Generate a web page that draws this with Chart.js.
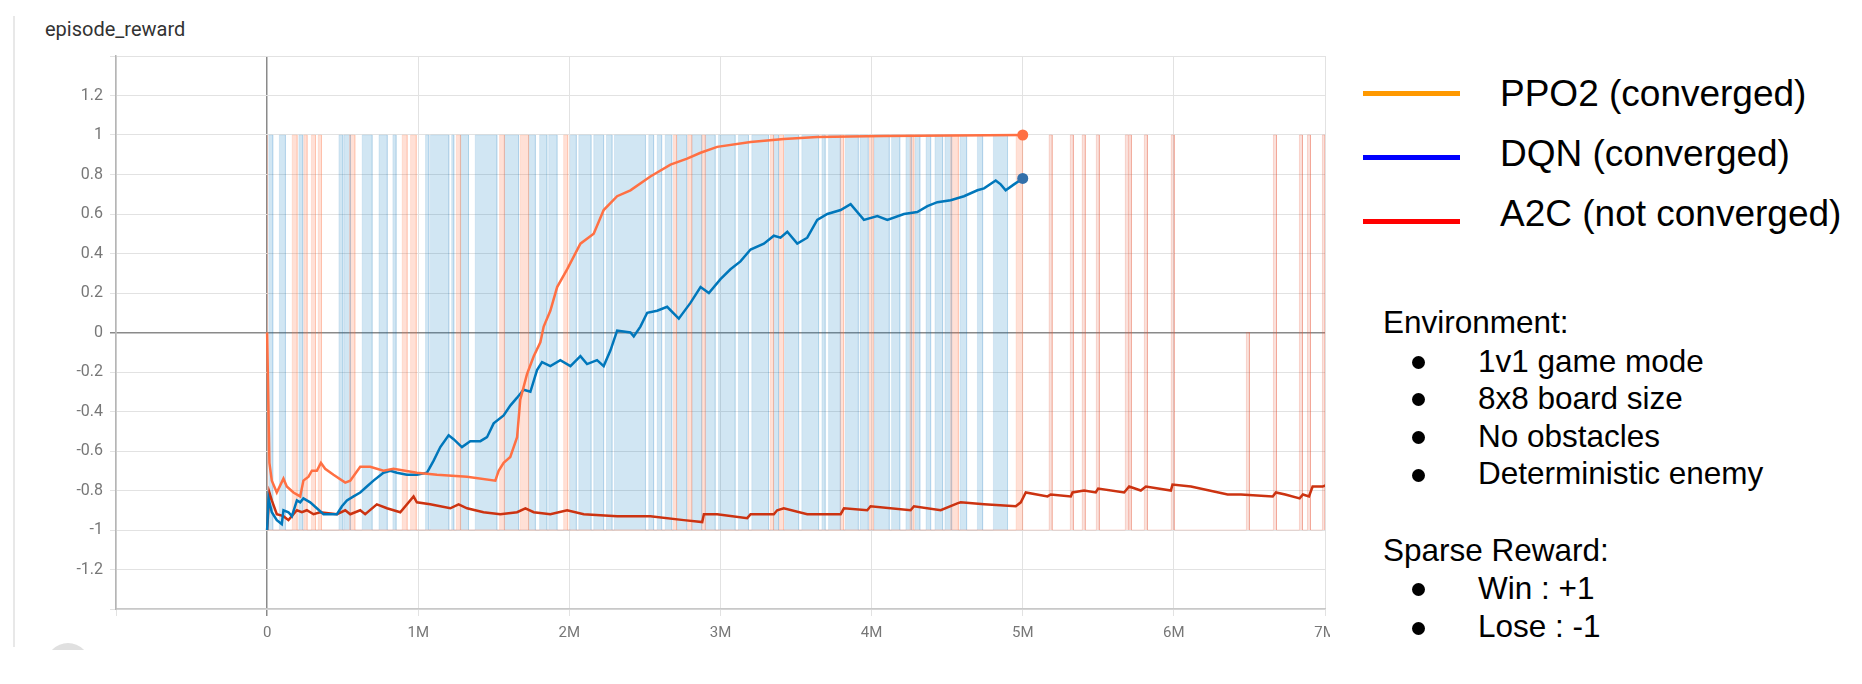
<!DOCTYPE html>
<html>
<head>
<meta charset="utf-8">
<script src="https://cdn.jsdelivr.net/npm/chart.js"></script>
<style>
  html, body { margin: 0; padding: 0; background: #fff; }
  body { width: 1862px; height: 684px; position: relative; overflow: hidden; }
  #chartBox { position: absolute; left: 0; top: 0; width: 1862px; height: 684px; }
  .title { position: absolute; left: 45px; top: 19px; font: 20px Roboto, sans-serif; line-height: 20px; color: #333; }
  .frame { position: absolute; left: 13px; top: 16px; width: 2px; height: 631px; background: #e8e8e8; }
  .knob { position: absolute; left: 46px; top: 643px; width: 44px; height: 7px; overflow: hidden; }
  .knob div { width: 44px; height: 44px; border-radius: 50%; background: #e0e0e0; }
  #panel { position: absolute; left: 1330px; top: 0; width: 532px; height: 684px; background: #fff;
           font-family: "Liberation Sans", Arial, sans-serif; color: #000; }
  .key { position: absolute; left: 33px; width: 97px; height: 5px; }
  .lab { position: absolute; left: 170px; font-size: 37px; line-height: 37px; white-space: nowrap; }
  .env { position: absolute; font-size: 31.5px; line-height: 31.5px; white-space: nowrap; }
  .dot { position: absolute; left: 82px; width: 13px; height: 13px; border-radius: 50%; background: #000; }
</style>
</head>
<body>
<div class="frame"></div>
<div class="knob"><div></div></div>
<div class="title">episode_reward</div>
<div id="chartBox"><canvas id="rewardChart" width="1862" height="684"></canvas></div>

<div id="panel">
  <div class="key" style="top:91px;background:#ff9900"></div>
  <div class="key" style="top:155px;background:#0000ff"></div>
  <div class="key" style="top:219px;background:#ff0000"></div>
  <div class="lab" style="top:75px">PPO2 (converged)</div>
  <div class="lab" style="top:135px">DQN (converged)</div>
  <div class="lab" style="top:195px">A2C (not converged)</div>

  <div class="env" style="left:53px;top:307px">Environment:</div>
  <div class="dot" style="top:356px"></div><div class="env" style="left:148px;top:346px">1v1 game mode</div>
  <div class="dot" style="top:393px"></div><div class="env" style="left:148px;top:383px">8x8 board size</div>
  <div class="dot" style="top:431px"></div><div class="env" style="left:148px;top:421px">No obstacles</div>
  <div class="dot" style="top:469px"></div><div class="env" style="left:148px;top:458px">Deterministic enemy</div>

  <div class="env" style="left:53px;top:535px">Sparse Reward:</div>
  <div class="dot" style="top:583px"></div><div class="env" style="left:148px;top:573px">Win : +1</div>
  <div class="dot" style="top:622px"></div><div class="env" style="left:148px;top:611px">Lose : -1</div>
</div>

<script>
// steps are in millions
const xTickLabels = ['', '0', '1M', '2M', '3M', '4M', '5M', '6M', '7M'];
const yTickLabels = ['', '-1.2', '-1', '-0.8', '-0.6', '-0.4', '-0.2', '0', '0.2', '0.4', '0.6', '0.8', '1', '1.2', ''];

// smoothed curves
const ppo2X = [0, 0.015, 0.031, 0.064, 0.108, 0.130, 0.174, 0.219, 0.240, 0.274, 0.296, 0.329, 0.356, 0.384, 0.439, 0.517, 0.550, 0.616, 0.682, 0.770, 0.836, 0.991, 1.124, 1.323, 1.510, 1.532, 1.565, 1.609, 1.654, 1.675, 1.720, 1.764, 1.808, 1.830, 1.874, 1.919, 1.985, 2.073, 2.161, 2.227, 2.316, 2.404, 2.536, 2.669, 2.779, 2.868, 2.978, 3.199, 3.419, 3.640, 4.081, 4.523, 5.0];
const ppo2Y = [0, -0.66, -0.75, -0.81, -0.74, -0.78, -0.81, -0.83, -0.75, -0.73, -0.70, -0.70, -0.66, -0.69, -0.72, -0.76, -0.75, -0.68, -0.68, -0.70, -0.69, -0.71, -0.72, -0.73, -0.75, -0.70, -0.66, -0.63, -0.53, -0.34, -0.21, -0.12, -0.05, 0.03, 0.11, 0.23, 0.32, 0.45, 0.50, 0.62, 0.69, 0.72, 0.79, 0.85, 0.88, 0.91, 0.94, 0.965, 0.98, 0.99, 0.995, 0.998, 1.0];

const dqnX = [0, 0.009, 0.031, 0.064, 0.097, 0.108, 0.141, 0.164, 0.197, 0.219, 0.240, 0.285, 0.329, 0.373, 0.462, 0.495, 0.528, 0.572, 0.616, 0.660, 0.704, 0.770, 0.815, 0.859, 0.925, 0.991, 1.058, 1.101, 1.146, 1.201, 1.234, 1.289, 1.344, 1.411, 1.455, 1.499, 1.565, 1.609, 1.654, 1.697, 1.742, 1.786, 1.819, 1.874, 1.940, 2.007, 2.073, 2.117, 2.183, 2.227, 2.272, 2.316, 2.404, 2.426, 2.470, 2.515, 2.581, 2.647, 2.724, 2.801, 2.868, 2.923, 3.000, 3.066, 3.132, 3.199, 3.287, 3.353, 3.397, 3.442, 3.508, 3.574, 3.640, 3.707, 3.795, 3.861, 3.949, 4.038, 4.104, 4.214, 4.302, 4.369, 4.435, 4.523, 4.611, 4.700, 4.744, 4.821, 4.854, 4.887, 4.942, 5.0];
const dqnY = [-1.0, -0.84, -0.91, -0.95, -0.97, -0.90, -0.91, -0.93, -0.85, -0.86, -0.84, -0.86, -0.89, -0.92, -0.92, -0.88, -0.85, -0.83, -0.81, -0.78, -0.75, -0.71, -0.70, -0.71, -0.72, -0.72, -0.71, -0.65, -0.58, -0.52, -0.54, -0.58, -0.55, -0.55, -0.53, -0.46, -0.42, -0.37, -0.33, -0.29, -0.30, -0.19, -0.15, -0.17, -0.14, -0.17, -0.12, -0.16, -0.14, -0.17, -0.09, 0.01, 0.00, -0.02, 0.03, 0.10, 0.11, 0.13, 0.07, 0.15, 0.23, 0.20, 0.27, 0.32, 0.36, 0.42, 0.45, 0.49, 0.48, 0.51, 0.45, 0.48, 0.57, 0.60, 0.62, 0.65, 0.57, 0.59, 0.57, 0.60, 0.61, 0.64, 0.66, 0.67, 0.69, 0.72, 0.73, 0.77, 0.75, 0.72, 0.75, 0.78];

const a2cX = [0, 0.015, 0.031, 0.064, 0.108, 0.141, 0.174, 0.197, 0.230, 0.263, 0.307, 0.351, 0.462, 0.517, 0.550, 0.616, 0.649, 0.726, 0.793, 0.881, 0.969, 0.991, 1.079, 1.212, 1.267, 1.323, 1.432, 1.543, 1.654, 1.709, 1.764, 1.874, 1.985, 2.095, 2.316, 2.536, 2.757, 2.879, 2.890, 2.978, 3.177, 3.199, 3.353, 3.375, 3.419, 3.574, 3.795, 3.817, 3.971, 3.993, 4.258, 4.280, 4.457, 4.567, 4.589, 4.744, 4.954, 4.987, 5.020, 5.164, 5.185, 5.318, 5.329, 5.406, 5.483, 5.499, 5.671, 5.704, 5.781, 5.815, 5.980, 5.991, 6.113, 6.356, 6.444, 6.654, 6.675, 6.737, 6.832, 6.854, 6.894, 6.918, 6.984, 7.02];
const a2cY = [-1.0, -0.81, -0.85, -0.92, -0.93, -0.95, -0.92, -0.90, -0.91, -0.90, -0.92, -0.91, -0.92, -0.90, -0.92, -0.90, -0.92, -0.87, -0.89, -0.91, -0.83, -0.86, -0.87, -0.89, -0.87, -0.89, -0.91, -0.92, -0.91, -0.89, -0.91, -0.92, -0.90, -0.92, -0.93, -0.93, -0.95, -0.96, -0.92, -0.92, -0.94, -0.92, -0.92, -0.90, -0.89, -0.92, -0.92, -0.89, -0.90, -0.88, -0.90, -0.88, -0.90, -0.865, -0.86, -0.87, -0.88, -0.86, -0.81, -0.83, -0.82, -0.83, -0.81, -0.80, -0.81, -0.79, -0.81, -0.78, -0.80, -0.78, -0.80, -0.77, -0.78, -0.82, -0.82, -0.83, -0.81, -0.82, -0.84, -0.82, -0.83, -0.78, -0.78, -0.77];

// raw episode rewards: runs of wins (+1) between losses (-1), [start, end]
const dqnWins = [[0.011, 0.038], [0.081, 0.121], [0.210, 0.236], [0.475, 0.501], [0.508, 0.552], [0.629, 0.695], [0.740, 0.795], [0.832, 0.854], [1.048, 1.071], [1.081, 1.203], [1.221, 1.236], [1.278, 1.333], [1.377, 1.521], [1.570, 1.664], [1.730, 1.775], [1.803, 1.852], [1.863, 1.919], [2.007, 2.046], [2.062, 2.144], [2.161, 2.227], [2.245, 2.283], [2.298, 2.503], [2.525, 2.558], [2.581, 2.611], [2.634, 2.678], [2.711, 2.777], [2.810, 2.876], [2.899, 2.965], [2.987, 3.097], [3.119, 3.185], [3.207, 3.318], [3.351, 3.384], [3.424, 3.517], [3.538, 3.649], [3.671, 3.693], [3.715, 3.793], [3.826, 3.912], [3.923, 3.978], [4.015, 4.117], [4.132, 4.187], [4.227, 4.265], [4.287, 4.320], [4.360, 4.391], [4.419, 4.470], [4.485, 4.530], [4.585, 4.629], [4.700, 4.735], [4.806, 4.899]];
const ppo2Wins = [[0, 0.004], [0.166, 0.199], [0.243, 0.265], [0.293, 0.320], [0.338, 0.360], [0.545, 0.581], [0.894, 0.927], [0.949, 0.987], [1.252, 1.280], [1.538, 1.570], [1.675, 1.730], [1.962, 1.989], [2.689, 2.709], [2.783, 2.810], [2.876, 2.899], [3.329, 3.351], [3.389, 3.417], [3.793, 3.815], [3.985, 4.011], [4.254, 4.280], [4.523, 4.574], [4.956, 4.998]];
// [start, end, reward]
const a2cWins = [[5.175, 5.195, 1], [5.315, 5.335, 1], [5.394, 5.414, 1], [5.487, 5.507, 1], [5.679, 5.699, 1], [5.703, 5.719, 1], [5.805, 5.825, 1], [5.983, 6.003, 1], [6.480, 6.500, 0], [6.659, 6.679, 1], [6.831, 6.851, 1], [6.884, 6.904, 1], [6.983, 7.0, 1]];

function zip(xs, ys) {
  return xs.map((x, i) => ({ x: x, y: ys[i] }));
}

function rawPoints(wins, from, to) {
  const pts = [{ x: from, y: -1 }];
  wins.forEach(w => {
    const r = w.length > 2 ? w[2] : 1;
    pts.push({ x: w[0], y: -1 }, { x: w[0], y: r }, { x: w[1], y: r }, { x: w[1], y: -1 });
  });
  pts.push({ x: to, y: -1 });
  return pts;
}

function smoothed(label, xs, ys, color, dot, order) {
  const last = xs.length - 1;
  return {
    label: label,
    data: zip(xs, ys),
    borderColor: color,
    borderWidth: 2.5,
    backgroundColor: color,
    pointRadius: ctx => (dot && ctx.dataIndex === last ? 5.5 : 0),
    pointBorderWidth: 0,
    pointBackgroundColor: dot || color,
    tension: 0,
    fill: false,
    order: order
  };
}

function raw(label, pts, fillColor, lineColor, order) {
  return {
    label: label,
    data: pts,
    borderColor: lineColor,
    backgroundColor: fillColor,
    borderWidth: 1,
    pointRadius: 0,
    tension: 0,
    fill: { value: -1 },
    order: order
  };
}

const isZero = v => Math.abs(v) < 1e-9;

new Chart(document.getElementById('rewardChart'), {
  type: 'line',
  data: {
    datasets: [
      smoothed('PPO2', ppo2X, ppo2Y, '#ff7043', '#ff7043', 1),
      smoothed('DQN', dqnX, dqnY, '#0077bb', '#3370aa', 2),
      smoothed('A2C', a2cX, a2cY, '#cc3311', null, 3),
      raw('PPO2 raw', rawPoints(ppo2Wins, 0, 5.0), 'rgba(255,112,67,0.22)', 'rgba(255,112,67,0.14)', 10),
      raw('A2C raw', rawPoints(a2cWins, 0, 7.05), 'rgba(230,90,60,0.18)', 'rgba(230,90,60,0.2)', 11),
      raw('DQN raw', rawPoints(dqnWins, 0, 4.9), 'rgba(0,119,187,0.18)', 'rgba(0,119,187,0.1)', 12)
    ]
  },
  options: {
    responsive: false,
    animation: false,
    devicePixelRatio: 1,
    layout: { padding: { left: 0, top: 56, right: 537, bottom: 0 } },
    plugins: {
      legend: { display: false },
      tooltip: { enabled: false }
    },
    scales: {
      x: {
        type: 'linear',
        min: -1,
        max: 7,
        afterFit: s => { s.height = 75; },
        ticks: {
          stepSize: 1,
          autoSkip: false,
          maxRotation: 0,
          padding: 8,
          color: '#777',
          font: { family: 'Roboto', size: 15 },
          callback: (v, i) => xTickLabels[i]
        },
        grid: {
          color: c => (c.tick && isZero(c.tick.value) ? '#8a8a8a' : '#e2e2e2'),
          lineWidth: c => (c.tick && isZero(c.tick.value) ? 1.5 : 1),
          tickLength: 7
        },
        border: { color: '#c8c8c8', width: 1.5 }
      },
      y: {
        min: -1.4,
        max: 1.4,
        afterFit: s => { s.width = 116; },
        ticks: {
          stepSize: 0.2,
          autoSkip: false,
          padding: 7,
          color: '#777',
          font: { family: 'Roboto', size: 16 },
          callback: (v, i) => yTickLabels[i]
        },
        grid: {
          color: c => (c.tick && isZero(c.tick.value) ? '#8a8a8a' : '#e2e2e2'),
          lineWidth: c => (c.tick && isZero(c.tick.value) ? 1.5 : 1),
          tickLength: 6
        },
        border: { color: '#b5b5b5', width: 1.5 }
      }
    }
  }
});
</script>
</body>
</html>
